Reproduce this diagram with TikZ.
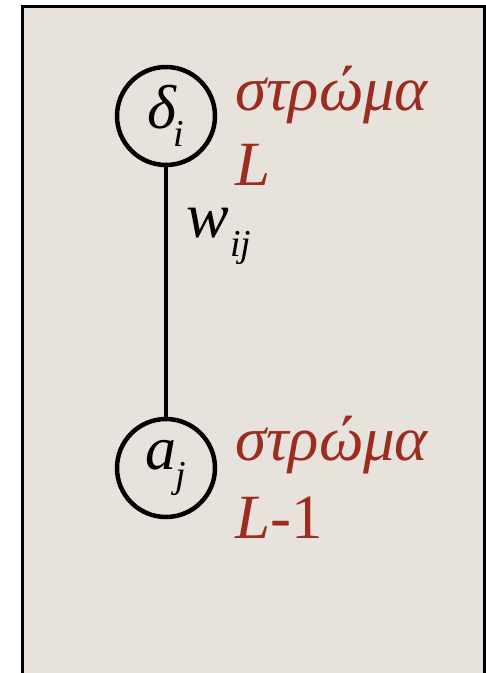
\documentclass[tikz,border=0pt]{standalone}
\usepackage{fontspec}
\setmainfont{Liberation Serif}
\definecolor{bg}{HTML}{E7E2DC}
\definecolor{redtxt}{HTML}{9B2C20}
\newcommand{\subx}[1]{\raisebox{-0.3em}{\fontsize{38}{38}\selectfont\itshape #1}}
\tikzset{
  neuron/.style={circle, draw=black, line width=4.5pt, minimum size=98pt, inner sep=0pt},
  layerlbl/.style={anchor=base west, text=redtxt, inner sep=0pt, font=\fontsize{63}{63}\selectfont},
  wlbl/.style={anchor=base west, inner sep=0pt, font=\fontsize{64}{64}\selectfont\itshape}
}
\begin{document}
\begin{tikzpicture}[x=1pt,y=1pt]
\useasboundingbox (0,0) rectangle (486,-673);
\fill[bg] (22,-6) rectangle (484,-673);
\draw[line width=3pt] (22,-673) -- (22,-6) -- (484,-6) -- (484,-673);
\node[neuron] (d) at (166,-116) {\fontsize{62}{62}\selectfont\itshape δ\kern-0.05em\subx{i}};
\node[neuron] (a) at (166,-468) {\fontsize{62}{62}\selectfont\itshape a\kern-0.02em\subx{j}};
\draw[line width=4.5pt] (d.south) -- (a.north);
\node[wlbl] (w) at (186,-237) {w\kern0.02em\subx{ij}};
\node[layerlbl] (l1) at (235,-110) {\itshape στρώμα};
\node[layerlbl] (l2) at (235,-185) {\itshape L};
\node[layerlbl] (l3) at (235,-460) {\itshape στρώμα};
\node[layerlbl] (l4) at (235,-538) {\itshape L\upshape-1};
\end{tikzpicture}
\end{document}
